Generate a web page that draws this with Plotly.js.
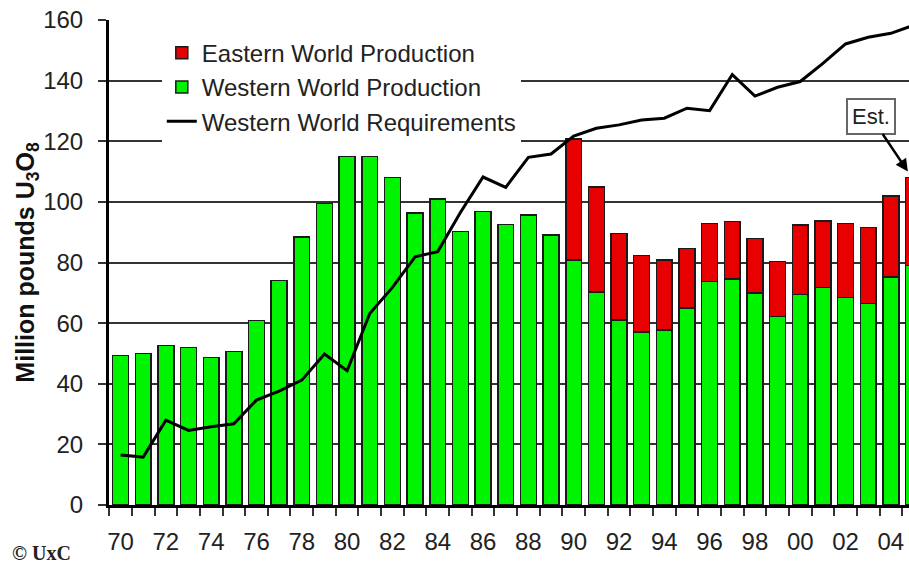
<!DOCTYPE html>
<html>
<head>
<meta charset="utf-8">
<script src="https://cdn.plot.ly/plotly-3.0.1.min.js"></script>
<style>
html,body{margin:0;padding:0;background:#fff;}
#chart{width:909px;height:564px;}
</style>
</head>
<body>
<div id="chart"></div>
<script>
const years = [1970,1971,1972,1973,1974,1975,1976,1977,1978,1979,1980,1981,1982,1983,1984,1985,1986,1987,1988,1989,1990,1991,1992,1993,1994,1995,1996,1997,1998,1999,2000,2001,2002,2003,2004,2005];
const westernProduction = [49.3,50,52.7,52,48.7,50.6,60.8,74,88.4,99.5,115,115,108,96.3,101,90.3,96.8,92.5,95.7,89,80.8,70.3,61,57.1,57.8,65,73.7,74.6,69.9,62.2,69.5,71.7,68.4,66.4,75.2,79];
const easternProduction = [0,0,0,0,0,0,0,0,0,0,0,0,0,0,0,0,0,0,0,0,39.9,34.6,28.6,25.2,23.1,19.7,19.1,19,18.1,18.1,22.9,22,24.4,25.1,26.8,29];
const westernRequirements = [16.5,15.8,28,24.6,25.8,26.8,34.6,37.6,41.2,49.8,44.3,63.2,71.8,81.9,83.6,96.5,108.2,104.8,114.7,115.8,121.7,124.3,125.4,127,127.6,130.9,130.1,142,134.9,137.8,139.7,145.7,152.1,154.3,155.6,158.3];
const tickYears = [1970,1972,1974,1976,1978,1980,1982,1984,1986,1988,1990,1992,1994,1996,1998,2000,2002,2004];
const tickLabels = ['70','72','74','76','78','80','82','84','86','88','90','92','94','96','98','00','02','04'];
const yTicks = [0,20,40,60,80,100,120,140,160];

const FONT = 'Liberation Sans, Arial, Helvetica, sans-serif';
const outline = {color:'#1a1a1a', width:1.5};

const traces = [
  {type:'bar', name:'Western World Production', x:years, y:westernProduction,
   marker:{color:'#00f400', line:outline}, width:0.7, legendrank:2, hoverinfo:'x+y+name'},
  {type:'bar', name:'Eastern World Production', x:years, y:easternProduction,
   marker:{color:'#e60000', line:outline}, width:0.7, legendrank:1, hoverinfo:'x+y+name'},
  {type:'scatter', mode:'lines', name:'Western World Requirements', x:years, y:westernRequirements,
   line:{color:'#000', width:3}, legendrank:3}
];

const layout = {
  width:909, height:564,
  margin:{l:109, r:0, t:20, b:59},
  paper_bgcolor:'#fff', plot_bgcolor:'#fff',
  barmode:'stack',
  showlegend:true,
  font:{family:FONT, color:'#222'},
  legend:{x:0.066, y:0.978, xanchor:'left', yanchor:'top', bgcolor:'#fff',
          traceorder:'normal', font:{size:24, color:'#222', family:FONT}, borderwidth:0,
          entrywidth:372, entrywidthmode:'pixels'},
  xaxis:{type:'linear', range:[1969.49, 2004.8], tickmode:'array', tickvals:tickYears, ticktext:tickLabels,
         ticks:'', showgrid:false, zeroline:false, showline:true, linecolor:'#000', linewidth:3,
         tickfont:{size:24, color:'#222', family:FONT}, ticklabelstandoff:13,
         minor:{tick0:1969.5, dtick:1, ticks:'outside', ticklen:8, tickwidth:2, tickcolor:'#333', showgrid:false}},
  xaxis2:{overlaying:'x', matches:'x', side:'top', showline:true, linecolor:'#000', linewidth:4,
          showticklabels:false, ticks:'', showgrid:false, zeroline:false},
  yaxis:{range:[0,160], tickmode:'array', tickvals:yTicks, ticks:'outside', ticklen:8, tickwidth:2, tickcolor:'#333',
         showgrid:true, gridcolor:'#333', gridwidth:2, zeroline:false, showline:true, linecolor:'#000', linewidth:3,
         tickfont:{size:24, color:'#222', family:FONT}, ticklabelstandoff:10,
         title:{text:'Million pounds U<sub>3</sub>O<sub>8</sub>', font:{size:25, color:'#111', family:FONT, weight:'bold'}, standoff:0}},
  annotations:[
    {x:2004.75, y:110, xref:'x', yref:'y', text:'Est.', showarrow:true, arrowhead:2, arrowsize:1, arrowwidth:2.5,
     arrowcolor:'#000', ax:-37, ay:-55, bordercolor:'#666', borderwidth:2, borderpad:4, bgcolor:'#fff',
     font:{size:22, color:'#222', family:FONT}},
    {x:-0.124, y:-0.099, xref:'paper', yref:'paper', xanchor:'left', yanchor:'middle', text:'© UxC', showarrow:false,
     font:{size:20, color:'#222', family:'Liberation Serif, Times New Roman, serif', weight:'bold'}}
  ]
};

Plotly.newPlot('chart', traces, layout, {displayModeBar:false, staticPlot:true});
</script>
</body>
</html>
